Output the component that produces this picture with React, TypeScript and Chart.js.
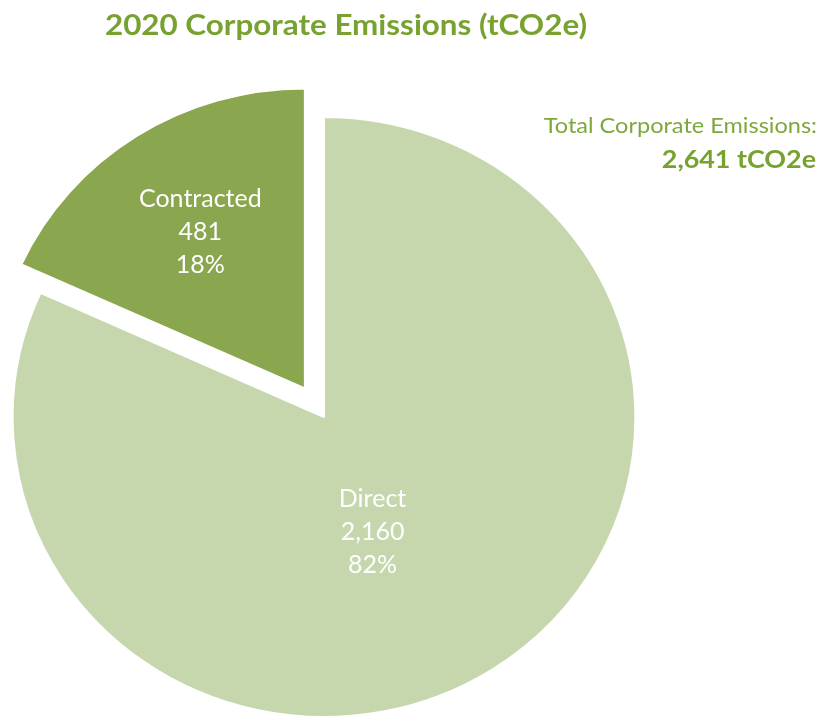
import React, { useEffect, useRef } from "react";
import { Chart, registerables } from "chart.js";

Chart.register(...registerables);

const categories = ["Direct", "Contracted"];
const emissions = [2160, 481];
const sliceColors = ["#C6D7AE", "#8AA64E"];
const titleText = "2020 Corporate Emissions (tCO2e)";
const totalLabel = "Total Corporate Emissions:";
const totalUnit = "tCO2e";

const W = 822;
const H = 717;
const X_STRETCH = 1.038;
const TEXT_STRETCH = 1.12;
const explode = [0, 34];
const labelRadius = [0.415, 0.62];
const labelAngleShift = [10.7, 0];
const FONT = "Lato, 'Open Sans', sans-serif";

const fmt = (v: number) => v.toLocaleString("en-US");

function stretchedText(ctx: CanvasRenderingContext2D, text: string, x: number, y: number, s: number) {
  ctx.save();
  ctx.translate(x, y);
  ctx.scale(s, 1);
  ctx.fillText(text, 0, 0);
  ctx.restore();
}

const piePlugin = {
  id: "pieTweaks",
  beforeDatasetsDraw(chart: any) {
    const ctx = chart.ctx;
    const { left, right, top, bottom } = chart.chartArea;
    const cx = (left + right) / 2;
    const cy = (top + bottom) / 2;
    const meta = chart.getDatasetMeta(0);
    meta.data.forEach((arc: any, i: number) => {
      const d = explode[i] || 0;
      const mid = (arc.startAngle + arc.endAngle) / 2;
      arc.x = cx + Math.cos(mid) * d;
      arc.y = cy + Math.sin(mid) * d;
    });
    ctx.save();
    ctx.translate(cx, 0);
    ctx.scale(X_STRETCH, 1);
    ctx.translate(-cx, 0);
  },
  afterDatasetsDraw(chart: any) {
    const ctx = chart.ctx;
    ctx.restore();
    const { left, right } = chart.chartArea;
    const cx = (left + right) / 2;
    const meta = chart.getDatasetMeta(0);
    const data = chart.data.datasets[0].data as number[];
    const total = data.reduce((a, b) => a + b, 0);
    ctx.save();
    ctx.fillStyle = "#FFFFFF";
    ctx.textAlign = "center";
    ctx.textBaseline = "middle";
    ctx.font = `25px ${FONT}`;
    meta.data.forEach((arc: any, i: number) => {
      const mid = (arc.startAngle + arc.endAngle) / 2 + (labelAngleShift[i] * Math.PI) / 180;
      const r = arc.outerRadius * labelRadius[i];
      const px = cx + (arc.x - cx + Math.cos(mid) * r) * X_STRETCH;
      const py = arc.y + Math.sin(mid) * r;
      const lines = [
        chart.data.labels[i],
        fmt(data[i]),
        Math.round((data[i] / total) * 100) + "%",
      ];
      lines.forEach((t: string, k: number) => {
        ctx.fillText(t, px, py + (k - 1) * 33);
      });
    });
    ctx.restore();
  },
  afterDraw(chart: any) {
    const ctx = chart.ctx;
    const data = chart.data.datasets[0].data as number[];
    const total = data.reduce((a, b) => a + b, 0);
    ctx.save();
    ctx.textBaseline = "alphabetic";
    ctx.fillStyle = "#77A22F";
    ctx.textAlign = "center";
    ctx.font = `bold 28px ${FONT}`;
    stretchedText(ctx, titleText, 346, 35, TEXT_STRETCH);
    ctx.textAlign = "right";
    ctx.fillStyle = "#7DA83C";
    ctx.font = `21px ${FONT}`;
    stretchedText(ctx, totalLabel, 817, 133, TEXT_STRETCH);
    ctx.fillStyle = "#77A22F";
    ctx.font = `bold 24px ${FONT}`;
    stretchedText(ctx, `${fmt(total)} ${totalUnit}`, 816, 168, TEXT_STRETCH);
    ctx.restore();
  },
};

export default function App() {
  const ref = useRef<HTMLCanvasElement | null>(null);
  useEffect(() => {
    document.body.style.margin = "0";
    if (!ref.current) return;
    const chart = new Chart(ref.current, {
      type: "pie",
      data: {
        labels: categories,
        datasets: [
          {
            data: emissions,
            backgroundColor: sliceColors,
            borderColor: "#FFFFFF",
            borderWidth: 2,
          },
        ],
      },
      options: {
        animation: false,
        responsive: true,
        maintainAspectRatio: false,
        radius: 300,
        layout: { padding: { left: 0, right: 174, top: 117, bottom: 0 } },
        plugins: {
          legend: { display: false },
          tooltip: { enabled: false },
          title: { display: false },
        },
      } as any,
      plugins: [piePlugin],
    });
    return () => chart.destroy();
  }, []);
  return (
    <div style={{ position: "absolute", left: 0, top: 0, width: W, height: H, background: "#FFFFFF" }}>
      <canvas ref={ref} />
    </div>
  );
}
